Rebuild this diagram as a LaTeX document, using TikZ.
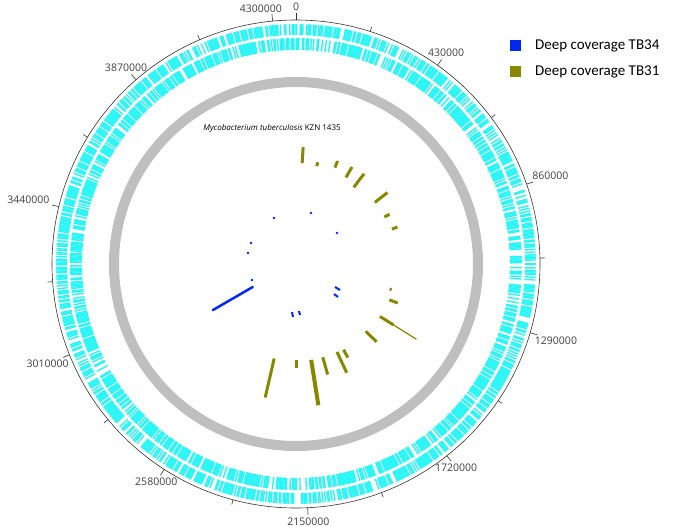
\documentclass[tikz,border=0pt]{standalone}
\usepackage{fontspec}
\setmainfont{Open Sans}
\newfontfamily\legfont{Carlito}
\definecolor{cy}{RGB}{40,245,245}
\definecolor{ol}{RGB}{135,135,0}
\definecolor{bl}{RGB}{0,40,240}
\tikzset{olbar/.style={ol,line width=3pt},blbar/.style={bl,line width=2pt},
 lab/.style={font=\fontsize{10.5}{12}\selectfont,text=black!75,inner sep=1.5pt}}
\begin{document}
\begin{tikzpicture}[x=1pt,y=-1pt]
\useasboundingbox (0,0) rectangle (685,527);
\coordinate (c) at (296,264);
\begin{scope}[shift={(296,264)},y=1pt]
\draw[black!80,line width=0.6pt] (0,0) circle (244pt);
\draw[gray!50,line width=10pt] (0,0) circle (182pt);
\pgfmathsetseed{7}
\foreach \a in {0,0.32,...,359.8}{
  \pgfmathsetmacro\ra{rnd}\pgfmathsetmacro\rb{rnd}
  \ifdim\ra pt>0.3pt \draw[cy,line width=1.4pt] (\a:229pt) -- (\a:240pt); \fi
  \ifdim\rb pt>0.3pt \draw[cy,line width=1.4pt] (\a:214pt) -- (\a:226pt); \fi
}
\foreach \k/\t in {0/0,1/430000,2/860000,3/1290000,4/1720000,5/2150000,6/2580000,7/3010000,8/3440000,9/3870000}{
  \pgfmathsetmacro\th{90-\k*35.45}
  \pgfmathsetmacro\an{\th+180}
  \draw[black!80,line width=0.6pt] (\th:244pt) -- (\th:251pt);
  \node[lab,anchor=\an] (l\k) at (\th:252pt) {\t};
  \pgfmathsetmacro\tm{\th-17.7}
  \draw[black!80,line width=0.6pt] (\tm:244pt) -- (\tm:249pt);
}
\draw[black!80,line width=0.6pt] (90-354.5:244pt) -- (90-354.5:251pt);
\node[lab,anchor=south] (l10) at (90-352:252pt) {4300000};
\foreach \c/\a/\b in {3.5/101/117,12/100/104,22/104/111,30/100/112,37/96/113,52/100/116,62/100/106,70/102/108,105/97/99,111/100/109,134/97/112,151/98/107,155/97/120,164/97/115,180/96/104,193/97/137}{
  \pgfmathsetmacro\th{90-\c}
  \draw[olbar] (\th:\a pt) -- (\th:\b pt);
}
\draw[olbar] (90-122:99pt) -- (90-122:115pt);
\draw[ol,line width=1.2pt] (90-122:99pt) -- (90-122:142pt);
\draw[olbar,line width=4pt] (90-171:97pt) -- (90-171:143pt);
\draw[bl,line width=2.5pt,line cap=round] (90-242:49pt) -- (90-241:95pt);
\end{scope}
\foreach \x/\y in {274/218,311/213,337/233,251/243,248/253,252/280}{
  \fill[bl] (\x,\y) circle (1.4pt);}
\draw[blbar] (335,287) -- (340,290);
\draw[blbar] (334,294) -- (338,297);
\draw[blbar] (292,312) -- (293,317);
\draw[blbar] (299,311) -- (300,315);
\node[font=\fontsize{8}{10}\selectfont,inner sep=0pt] (title) at (272,128) {\textit{Mycobacterium tuberculosis} KZN 1435};
\fill[bl] (510,40) rectangle (521,51);
\node[anchor=west,font=\legfont\fontsize{15}{17}\selectfont,inner sep=0pt] (t34) at (535,46) {Deep coverage TB34};
\fill[ol] (510,66) rectangle (521,77);
\node[anchor=west,font=\legfont\fontsize{15}{17}\selectfont,inner sep=0pt] (t31) at (535,72) {Deep coverage TB31};
\end{tikzpicture}
\end{document}
